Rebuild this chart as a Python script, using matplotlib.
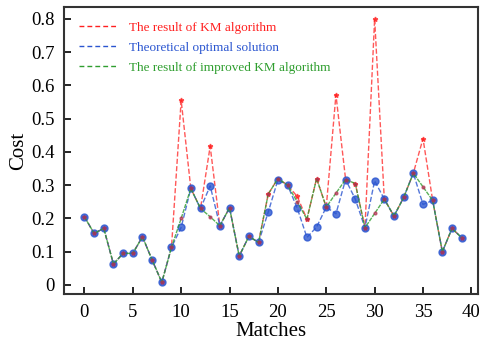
import numpy as np
import matplotlib.pyplot as plt

plt.rcParams['font.family'] = ['Liberation Serif', 'DejaVu Serif']

# Match index
matches = np.arange(40)

# Result of improved KM algorithm
improved = [0.205, 0.155, 0.170, 0.063, 0.095, 0.095, 0.145, 0.075, 0.008, 0.113,
            0.200, 0.290, 0.230, 0.205, 0.178, 0.232, 0.087, 0.146, 0.128, 0.273,
            0.320, 0.300, 0.250, 0.198, 0.320, 0.234, 0.276, 0.317, 0.305, 0.172,
            0.215, 0.258, 0.207, 0.263, 0.336, 0.295, 0.254, 0.100, 0.170, 0.142]

# Result of KM algorithm
km = [0.205, 0.155, 0.170, 0.063, 0.095, 0.095, 0.145, 0.075, 0.008, 0.113,
      0.555, 0.290, 0.230, 0.417, 0.178, 0.232, 0.087, 0.146, 0.128, 0.273,
      0.320, 0.300, 0.266, 0.198, 0.320, 0.234, 0.572, 0.317, 0.305, 0.172,
      0.800, 0.258, 0.207, 0.263, 0.336, 0.440, 0.254, 0.100, 0.170, 0.142]

# Theoretical optimal solution
optimal = [0.205, 0.155, 0.170, 0.063, 0.095, 0.095, 0.145, 0.075, 0.008, 0.113,
           0.173, 0.290, 0.230, 0.298, 0.178, 0.232, 0.087, 0.146, 0.128, 0.219,
           0.316, 0.300, 0.231, 0.143, 0.174, 0.234, 0.214, 0.317, 0.258, 0.172,
           0.313, 0.258, 0.207, 0.263, 0.336, 0.242, 0.254, 0.100, 0.170, 0.142]

red = '#ff2020'
blue = '#2a55d0'
green = '#2f9e2f'

fig = plt.figure(figsize=(4.82, 3.43), dpi=100)
ax = fig.add_axes([0.133, 0.143, 0.859, 0.837])

ax.plot(matches, km, '--', color=red, lw=1.0, alpha=0.75, marker='*', ms=3.5,
        label='The result of KM algorithm')
ax.plot(matches, optimal, '--', color=blue, lw=1.0, alpha=0.8, marker='o', ms=5,
        label='Theoretical optimal solution')
ax.plot(matches, improved, '--', color=green, lw=1.0, alpha=0.8, dashes=(3, 0.8),
        label='The result of improved KM algorithm')
# markers on shared points
ax.plot(matches, improved, ls='none', marker='.', ms=4, color='#b03050', alpha=0.7)

ax.set_xlim(-2.1, 40.7)
ax.set_ylim(-0.027, 0.836)
ax.set_xticks(np.arange(0, 41, 5))
ax.set_yticks(np.arange(0, 0.81, 0.1))
ax.set_yticklabels(['0', '0.1', '0.2', '0.3', '0.4', '0.5', '0.6', '0.7', '0.8'])
ax.tick_params(direction='in', length=5, width=1.2, labelsize=13.5, pad=7)
for s in ax.spines.values():
    s.set_linewidth(1.5)
    s.set_color('#333333')

ax.set_xlabel('Matches', fontsize=15, labelpad=1)
ax.set_ylabel('Cost', fontsize=15, labelpad=2)

leg = ax.legend(loc='upper left', frameon=False, fontsize=9.5, handlelength=3.0,
                handletextpad=0.8, labelspacing=0.6, borderaxespad=0.7)
for line, text in zip(leg.get_lines(), leg.get_texts()):
    line.set_marker('')
    line.set_linestyle((0, (3.5, 2.2)))
    line.set_alpha(1)
    text.set_color(line.get_color())

fig.savefig('out.png', dpi=100)
